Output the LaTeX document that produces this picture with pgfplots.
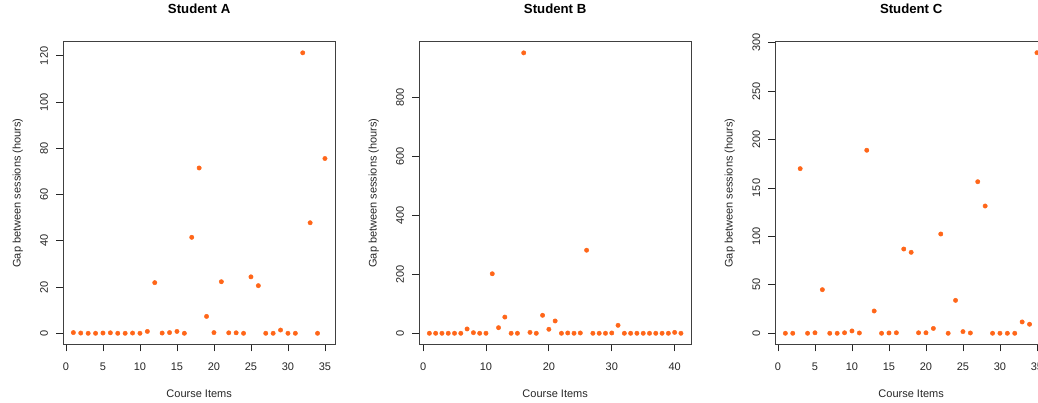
\documentclass[border=0pt]{standalone}
\usepackage{pgfplots}
\pgfplotsset{compat=1.18}
\usepackage{pgfplotstable}
\usepackage{fontspec}
\setmainfont{Liberation Sans}
\definecolor{ptc}{RGB}{255,102,25}

\pgfplotstableread{
x y
1 0.3
2 0.1
3 0
4 0
5 0.1
6 0.2
7 0
8 0
9 0.1
10 0
11 0.8
12 21.9
13 0.1
14 0.3
15 0.8
16 0
17 41.5
18 71.5
19 7.3
20 0.3
21 22.3
22 0.2
23 0.2
24 0
25 24.4
26 20.6
27 0
28 0
29 1.4
30 0
31 0
32 121.3
33 47.8
34 0
35 75.6
}\dataA

\pgfplotstableread{
x y
1 0
2 0
3 0
4 0
5 0
6 0
7 14.7
8 2
9 0
10 0
11 202
12 19
13 55
14 0
15 0
16 952
17 3
18 0
19 61
20 13.6
21 41.8
22 0
23 1
24 0
25 1
26 282
27 0
28 0
29 0
30 1
31 27
32 0
33 0
34 0
35 0
36 0
37 0
38 0
39 0
40 3
41 0
}\dataB

\pgfplotstableread{
x y
1 0
2 0
3 170
4 0
5 0.5
6 45
7 0
8 0
9 0.5
10 2.4
11 0.3
12 189
13 23
14 0
15 0.3
16 0.5
17 87
18 83.6
19 0.5
20 0.5
21 5
22 102.5
23 0
24 34
25 1.7
26 0.3
27 156.5
28 131.4
29 0
30 0
31 0
32 0
33 11.7
34 9.3
35 289.7
}\dataC

\pgfplotsset{rstyle/.style={
  scale only axis, width=271.7pt, height=303pt,
  axis line style={black!75, line width=0.9pt},
  tick pos=left, tick align=outside, major tick length=7pt,
  every tick/.style={black!85, line width=0.8pt},
  /pgf/number format/assume math mode=true,
  ticklabel style={font=\fontsize{11}{13}\selectfont, text=black!85},
  yticklabel style={rotate=90, anchor=south, inner sep=0pt},
  xticklabel style={anchor=north, inner sep=0pt},
  xticklabel shift=11.5pt, yticklabel shift=8pt,
  label style={font=\fontsize{11}{13}\selectfont, text=black!85},
  title style={at={(axis description cs:0.5,1.0716)}, anchor=base, font=\fontsize{13.2}{15}\selectfont\bfseries},
  xlabel style={at={(axis description cs:0.5,-0.1733)}, anchor=base},
  ylabel style={at={(axis description cs:-0.1568,0.5)}, anchor=base},
  xlabel={Course Items}, ylabel={Gap between sessions (hours)},
  scaled ticks=false,
  clip=false,
}}
\pgfplotsset{pts/.style={only marks, color=ptc, mark=*, mark size=2.2pt, mark options={solid, draw=ptc, fill=ptc, line width=0.4pt}}}

\begin{document}
\begin{tikzpicture}
\path[use as bounding box, clip] (0,0) rectangle (1038pt,403pt);
\begin{axis}[rstyle, at={(63.3pt,58.5pt)}, anchor=south west,
  title={Student A},
  xmin=-0.36, xmax=36.36, ymin=-4.85, ymax=126.2,
  xtick={0,5,...,35}, ytick={0,20,...,120}]
\addplot[pts] table[x=x,y=y] {\dataA};
\end{axis}
\begin{axis}[rstyle, at={(419.3pt,58.5pt)}, anchor=south west,
  title={Student B},
  xmin=-0.6, xmax=42.6, ymin=-38.1, ymax=990.6,
  xtick={0,10,...,40}, ytick={0,200,...,800}]
\addplot[pts] table[x=x,y=y] {\dataB};
\end{axis}
\begin{axis}[rstyle, at={(775.3pt,58.5pt)}, anchor=south west,
  title={Student C},
  xmin=-0.36, xmax=36.36, ymin=-11.6, ymax=301.3,
  xtick={0,5,...,35}, ytick={0,50,...,300}]
\addplot[pts] table[x=x,y=y] {\dataC};
\end{axis}
\end{tikzpicture}
\end{document}
